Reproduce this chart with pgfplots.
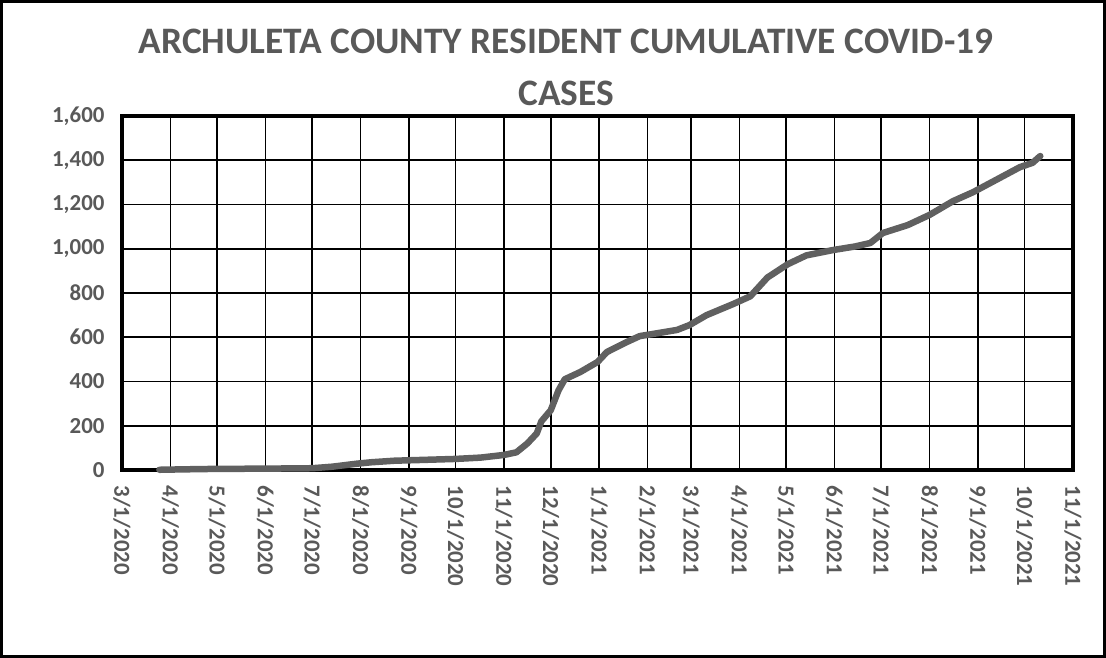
\documentclass[border=0pt]{standalone}
\usepackage{pgfplots}
\pgfplotsset{compat=1.18}
\usepackage{fontspec}
\setmainfont{Carlito}
\definecolor{txtgray}{HTML}{595959}
\definecolor{linegray}{HTML}{606060}
\begin{document}
\begin{tikzpicture}[x=1bp,y=1bp]
\draw[line width=3bp] (1.5,1.5) rectangle (1104.5,656.5);
\begin{axis}[
  at={(122bp,188bp)}, anchor=south west,
  scale only axis, width=951bp, height=354bp,
  xmin=0, xmax=610, ymin=0, ymax=1600,
  xtick={0,31,61,92,122,153,184,214,245,275,306,337,365,396,426,457,487,518,549,579,610},
  xticklabels={3/1/2020,4/1/2020,5/1/2020,6/1/2020,7/1/2020,8/1/2020,9/1/2020,10/1/2020,11/1/2020,12/1/2020,1/1/2021,2/1/2021,3/1/2021,4/1/2021,5/1/2021,6/1/2021,7/1/2021,8/1/2021,9/1/2021,10/1/2021,11/1/2021},
  ytick={0,200,...,1600},
  /pgf/number format/assume math mode=true,
  /pgf/number format/1000 sep={,},
  grid=major,
  major grid style={black, line width=1.6bp},
  axis line style={black, line width=4bp},
  tick style={draw=none},
  major tick length=0pt,
  xticklabel style={rotate=-90, anchor=west, font=\fontsize{23}{25}\selectfont\bfseries, text=txtgray},
  yticklabel style={font=\fontsize{23}{25}\selectfont\bfseries, text=txtgray},
  xtick pos=bottom, ytick pos=left,
  xticklabel shift=12bp, yticklabel shift=14bp,
  title style={font=\fontsize{37.5}{52}\selectfont\bfseries, text=txtgray, align=center, at={(0.467,1)}, anchor=south, yshift=1bp},
  title={ARCHULETA COUNTY RESIDENT CUMULATIVE COVID-19\\CASES},
  clip=false,
]
\addplot[linegray, line width=6.5bp, line cap=round, line join=round] coordinates {
(24,1)(40,3)(60,5)(90,6)(122,8)(135,15)(150,28)(160,35)(175,42)(190,45)
(214,50)(230,56)(245,68)(253,80)(260,120)(266,165)(269,220)(272,245)(275,270)
(280,360)(284,410)(294,443)(305,488)(311,533)(324,579)(332,605)(345,620)
(356,633)(364,655)(375,700)(392,750)(403,785)(414,870)(427,930)(439,970)
(456,994)(470,1010)(480,1026)(488,1071)(504,1107)(518,1153)(533,1215)
(546,1256)(563,1320)(576,1369)(584,1388)(589,1419)
};
\end{axis}
\end{tikzpicture}
\end{document}
